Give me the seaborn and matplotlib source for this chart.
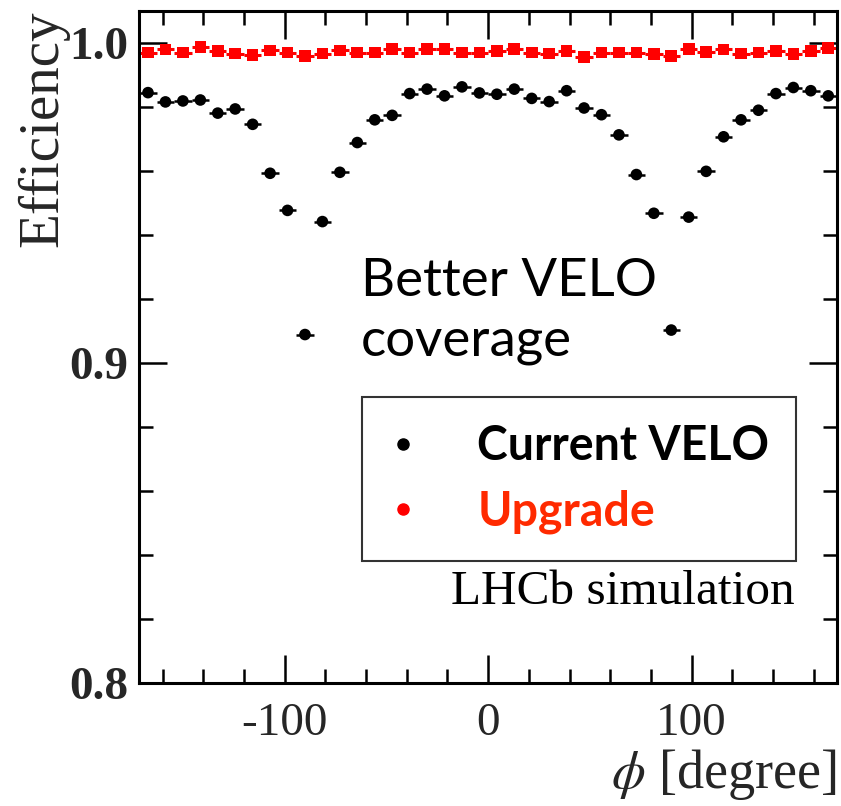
import matplotlib
matplotlib.use("Agg")
import matplotlib.pyplot as plt
import seaborn as sns
import pandas as pd
from matplotlib.lines import Line2D
from matplotlib.ticker import MultipleLocator

# Azimuthal bin centres (degrees), 40 bins over the acceptance
phi = [-167.14, -158.57, -150.00, -141.43, -132.86, -124.29, -115.71, -107.14,
       -98.57, -90.00, -81.43, -72.86, -64.29, -55.71, -47.14, -38.57,
       -30.00, -21.43, -12.86, -4.29, 4.29, 12.86, 21.43, 30.00,
       38.57, 47.14, 55.71, 64.29, 72.86, 81.43, 90.00, 98.57,
       107.14, 115.71, 124.29, 132.86, 141.43, 150.00, 158.57, 167.14]

eff_current = [0.9844, 0.9815, 0.9818, 0.9821, 0.9780, 0.9793, 0.9745, 0.9592,
               0.9476, 0.9088, 0.9441, 0.9595, 0.9688, 0.9759, 0.9773, 0.9841,
               0.9855, 0.9834, 0.9862, 0.9843, 0.9839, 0.9855, 0.9826, 0.9816,
               0.9850, 0.9796, 0.9775, 0.9712, 0.9588, 0.9467, 0.9102, 0.9455,
               0.9598, 0.9706, 0.9759, 0.9789, 0.9841, 0.9860, 0.9850, 0.9834]

eff_upgrade = [0.9969, 0.9979, 0.9969, 0.9987, 0.9974, 0.9966, 0.9961, 0.9976,
               0.9969, 0.9959, 0.9966, 0.9976, 0.9969, 0.9969, 0.9981, 0.9969,
               0.9981, 0.9981, 0.9969, 0.9969, 0.9974, 0.9981, 0.9969, 0.9966,
               0.9974, 0.9955, 0.9969, 0.9969, 0.9969, 0.9964, 0.9959, 0.9981,
               0.9971, 0.9979, 0.9966, 0.9969, 0.9974, 0.9964, 0.9974, 0.9984]

series_labels = ["Current VELO", "Upgrade"]
x_ticks = [-100, 0, 100]
y_ticks = [0.8, 0.9, 1.0]

bin_half = 4.2857

df = pd.DataFrame({
    "phi": phi * 2,
    "eff": eff_current + eff_upgrade,
    "series": [series_labels[0]] * len(phi) + [series_labels[1]] * len(phi),
})

sns.set_theme(style="ticks")
plt.rcParams["font.family"] = ["Liberation Serif", "DejaVu Serif"]
plt.rcParams["mathtext.fontset"] = "stix"

fig = plt.figure(figsize=(8.41, 8.06), dpi=100)
ax = fig.add_axes([0.1656, 0.1530, 0.8296, 0.8337])

# horizontal bin-width bars
ax.errorbar(phi, eff_current, xerr=bin_half, fmt="none", ecolor="black",
            elinewidth=1.8, capsize=0, zorder=2)
ax.errorbar(phi, eff_upgrade, xerr=bin_half, fmt="none", ecolor="red",
            elinewidth=2.2, capsize=0, zorder=2, linestyle="--")

sns.scatterplot(data=df, x="phi", y="eff", hue="series", style="series",
                palette={series_labels[0]: "black", series_labels[1]: "red"},
                markers={series_labels[0]: "o", series_labels[1]: "s"},
                s=70, edgecolor="none", legend=False, ax=ax, zorder=3)

ax.set_xlim(-171.43, 171.43)
ax.set_ylim(0.8, 1.01)

ax.xaxis.set_major_locator(MultipleLocator(100))
ax.xaxis.set_minor_locator(MultipleLocator(20))
ax.yaxis.set_major_locator(MultipleLocator(0.1))
ax.yaxis.set_minor_locator(MultipleLocator(0.02))
ax.set_xticks(x_ticks)
ax.set_yticks(y_ticks)
ax.set_xticklabels([str(t) for t in x_ticks])
ax.set_yticklabels([f"{t:.1f}" for t in y_ticks])

ax.tick_params(which="both", direction="in", top=True, right=True,
               width=1.8, color="black")
ax.tick_params(which="major", length=20)
ax.tick_params(which="minor", length=10)
ax.tick_params(axis="x", which="major", labelsize=34, pad=14)
ax.tick_params(axis="y", which="major", labelsize=34, pad=8)
for lab in ax.get_yticklabels():
    lab.set_fontweight("bold")

for sp in ax.spines.values():
    sp.set_linewidth(2.2)
    sp.set_color("black")

ax.set_xlabel(r"$\phi$ [degree]", fontsize=39, loc="right", labelpad=2)
ax.set_ylabel("Efficiency", fontsize=41, loc="top", labelpad=0)

# annotation
ax.text(0.318, 0.632, "Better VELO\ncoverage", transform=ax.transAxes,
        fontsize=38, family=["Lato", "DejaVu Sans"], color="black",
        ha="left", va="top", linespacing=1.32)

handles = [
    Line2D([], [], marker="o", color="black", linestyle="none", markersize=8),
    Line2D([], [], marker="o", color="red", linestyle="none", markersize=8),
]
leg = ax.legend(handles, series_labels, loc="upper left",
                bbox_to_anchor=(0.319, 0.425), frameon=True, fancybox=False,
                prop={"family": ["Lato", "DejaVu Sans"], "weight": "bold", "size": 33.5},
                borderpad=0.58, labelspacing=0.46, handlelength=0.6,
                handletextpad=1.3, borderaxespad=0)
leg.get_frame().set_edgecolor("black")
leg.get_frame().set_linewidth(1.5)
leg.get_texts()[0].set_color("black")
leg.get_texts()[1].set_color("#ff2a00")

ax.text(0.939, 0.135, "LHCb simulation", transform=ax.transAxes,
        fontsize=35.5, ha="right", va="center", color="black")

fig.savefig("out.png", dpi=100)
